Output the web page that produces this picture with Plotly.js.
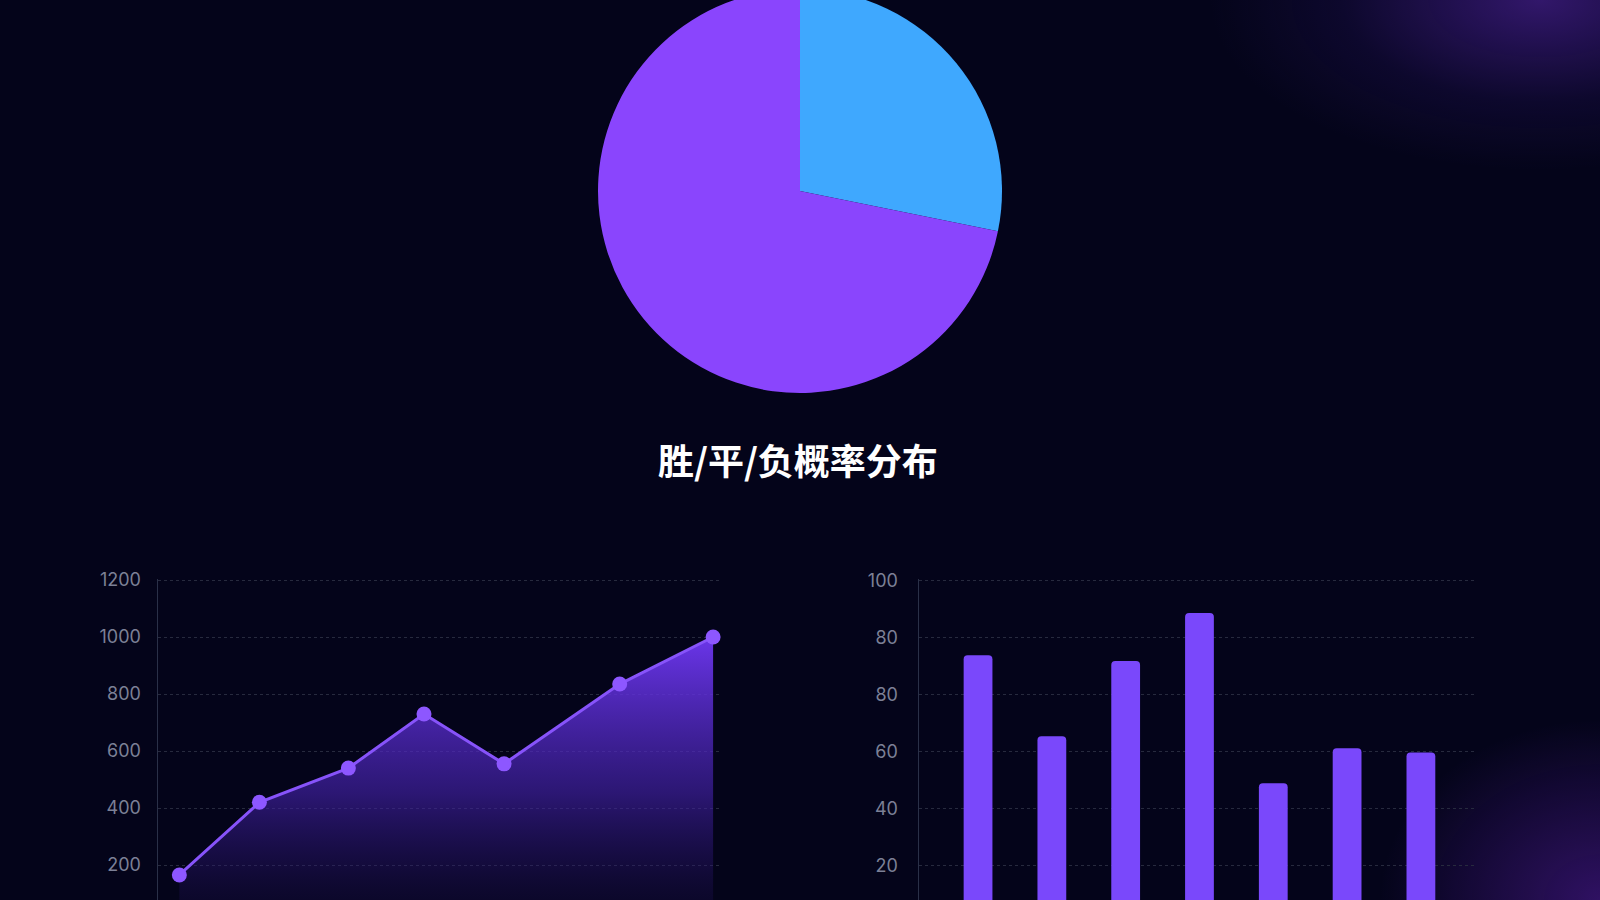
<!DOCTYPE html>
<html>
<head>
<meta charset="utf-8">
<script src="https://cdn.plot.ly/plotly-3.0.1.min.js"></script>
<style>
  html, body { margin:0; padding:0; width:1600px; height:900px; overflow:hidden; }
  body {
    background:
      radial-gradient(ellipse 330px 170px at 1540px 0px, rgba(80,35,160,0.6), rgba(50,25,120,0.2) 60%, rgba(0,0,0,0) 100%),
      radial-gradient(ellipse 220px 180px at 1600px 900px, rgba(90,30,170,0.5), rgba(0,0,0,0) 100%),
      #04041a;
  }
  #chart { position:absolute; left:0; top:-12px; width:1600px; height:960px; }
</style>
</head>
<body>
<div id="chart"></div>
<script>
// ---- data ----
const pieLabels = ['胜', '负'];
const pieValues = [28.2, 71.8];
const pieColors = ['#3fa8fe', '#8a45fd'];
const chartTitle = '胜/平/负概率分布';

const lineX = [1, 1.9, 2.9, 3.75, 4.65, 5.95, 7];
const lineY = [165, 420, 540, 730, 555, 835, 1000];
const lineTickVals = [200, 400, 600, 800, 1000, 1200];
const lineTickText = ['200', '400', '600', '800', '1000', '1200'];

const barCategories = [0, 1, 2, 3, 4, 5, 6];
const barValues = [79, 56.3, 77.4, 90.9, 43.1, 52.9, 51.7];
const barTickVals = [20, 36, 52, 68, 84, 100];
const barTickText = ['20', '40', '60', '80', '80', '100'];

// ---- traces ----
const pie = {
  type: 'pie', labels: pieLabels, values: pieValues, sort: false,
  direction: 'clockwise', rotation: 0, textinfo: 'none', hoverinfo: 'label+percent',
  marker: { colors: pieColors, line: { width: 0 } },
  domain: { x: [598/1600, 1002/1600], y: [1 - 405/960, 1 - 1/960] },
  showlegend: false
};

const line = {
  type: 'scatter', mode: 'lines+markers', x: lineX, y: lineY,
  xaxis: 'x', yaxis: 'y',
  line: { color: '#8753fa', width: 3 },
  marker: { size: 15, color: '#8d57ff' },
  fill: 'tozeroy',
  fillgradient: { type: 'vertical', start: 0, stop: 1000,
    colorscale: [[0, 'rgba(25,12,70,0.2)'], [0.45, 'rgba(70,35,175,0.6)'], [1, 'rgba(112,56,245,0.95)']] },
  showlegend: false
};

const bars = {
  type: 'bar', x: barCategories, y: barValues, xaxis: 'x2', yaxis: 'y2',
  marker: { color: '#7a48fb', cornerradius: 4, line: { width: 0 } },
  width: 0.39,
  showlegend: false
};

const axisFont = { family: 'Inter, Lato, sans-serif', size: 18, color: '#7c8096' };
const gridCommon = { showgrid: true, gridcolor: '#272a3e', griddash: 'dot', gridwidth: 1, zeroline: false };

const layout = {
  width: 1600, height: 960,
  margin: { l: 0, r: 0, t: 0, b: 0 },
  paper_bgcolor: 'rgba(0,0,0,0)', plot_bgcolor: 'rgba(0,0,0,0)',
  xaxis: { domain: [158/1600, 722/1600], range: [0.76, 7.1], showgrid: false, zeroline: false,
           showticklabels: false, showline: false },
  yaxis: Object.assign({ domain: [1 - 934/960, 1 - 590.6/960], range: [0, 1205],
           tickvals: lineTickVals, ticktext: lineTickText, tickfont: axisFont,
           showline: true, linecolor: '#2a3048', linewidth: 1.5, ticks: '', ticklabelstandoff: 12 }, gridCommon),
  xaxis2: { domain: [919/1600, 1477/1600], range: [-0.8, 6.76], anchor: 'y2', showgrid: false,
            zeroline: false, showticklabels: false, showline: false },
  yaxis2: Object.assign({ domain: [1 - 948.7/960, 1 - 590.8/960], range: [0, 100.5], anchor: 'x2',
           tickvals: barTickVals, ticktext: barTickText, tickfont: axisFont,
           showline: true, linecolor: '#2a3048', linewidth: 1.5, ticks: '', ticklabelstandoff: 16 }, gridCommon),
  annotations: [{
    text: chartTitle, xref: 'paper', yref: 'paper', x: 798/1600, y: 1 - 471/960,
    xanchor: 'center', yanchor: 'middle', showarrow: false,
    font: { family: 'Noto Sans CJK SC', size: 36, color: '#ffffff', weight: 'bold' }
  }]
};

Plotly.newPlot('chart', [pie, line, bars], layout, { displayModeBar: false, staticPlot: true });
</script>
</body>
</html>
